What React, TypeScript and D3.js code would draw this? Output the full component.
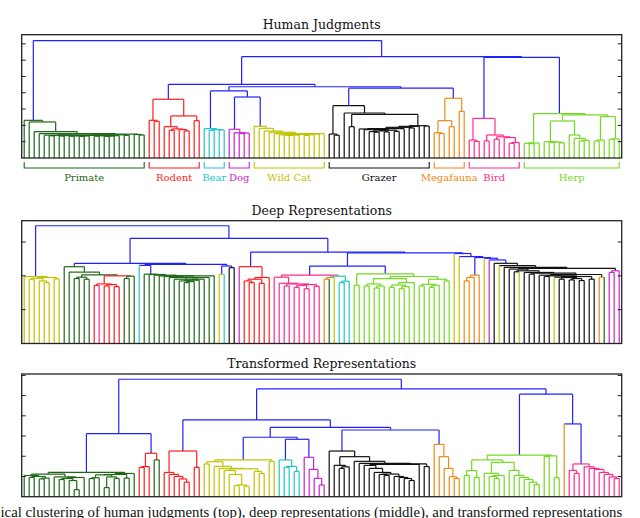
import * as d3 from "d3";

const WIDTH = 640;
const HEIGHT = 518;
const PLOT_LEFT = 21.7;
const PLOT_RIGHT = 621.7;
const N_LEAVES = 120;

const categoryCodes = ["P", "R", "C", "D", "W", "K", "O", "B", "H"];
const categoryNames = ["Primate", "Rodent", "Bear", "Dog", "Wild Cat", "Grazer", "Megafauna", "Bird", "Herp"];
const categoryColors = ["#1f661a", "#ff1c1c", "#1fc6cc", "#cc22cc", "#c2c200", "#111111", "#ee8a14", "#ff2a8a", "#74d820"];
const LINK_BLUE = "#2020ff";

// ---- Human judgments (top) ----
const humanLeafRuns: [string, number][] = [
  ["P", 25], ["R", 11], ["C", 5], ["D", 5], ["W", 15], ["K", 21], ["O", 7], ["B", 11], ["H", 20],
];
const humanGroups = [25, 11, 5, 5, 15, 21, 7, 11, 20];
const humanMerges = [
  2.31, 2.21, 1.62, 1.5, 1.4, 1.36, 1.38, 1.35, 1.37, 1.34, 1.36, 1.33, 1.35, 1.38, 1.34, 1.36, 1.33, 1.35, 1.37, 1.42,
  1.39, 1.47, 1.44, 1.41, 7.2, 2.31, 2.25, 3.6, 1.92, 1.7, 1.78, 1.74, 1.66, 2.58, 2.29, 4.52, 1.8, 1.7, 1.74, 1.72,
  4.11, 1.76, 1.55, 1.5, 1.53, 3.74, 1.94, 1.82, 1.65, 1.58, 1.5, 1.42, 1.4, 1.38, 1.41, 1.44, 1.39, 1.43, 1.47, 1.49,
  4.37, 1.47, 1.4, 3.21, 2.76, 1.92, 2.68, 1.78, 1.74, 1.62, 1.58, 1.66, 1.6, 1.7, 1.63, 1.8, 1.88, 1.84, 1.94, 1.98,
  1.96, 4.28, 1.55, 1.5, 2.29, 1.92, 3.66, 2.86, 6.21, 1.1, 1.02, 2.43, 1.05, 1.41, 1.15, 1.3, 1.25, 0.9, 0.95, 6.17,
  0.9, 0.88, 0.92, 2.72, 1.0, 0.95, 0.98, 0.93, 2.27, 1.41, 1.2, 1.05, 1.08, 2.64, 1.05, 1.1, 2.54, 1.15, 1.17,
];

// ---- Deep representations (middle) ----
const deepLeafRuns: [string, number][] = [
  ["W", 8], ["P", 6], ["R", 1], ["B", 1], ["R", 4], ["P", 3], ["C", 1], ["P", 15], ["W", 1], ["C", 1], ["K", 2],
  ["D", 1], ["R", 6], ["B", 10], ["O", 1], ["P", 1], ["W", 1], ["C", 3], ["H", 20], ["W", 2], ["O", 4], ["W", 1],
  ["D", 1], ["K", 1], ["W", 1], ["K", 3], ["W", 1], ["K", 6], ["W", 1], ["K", 8], ["O", 1], ["P", 1], ["D", 3],
];
const deepGroups = [8, 15, 1, 15, 2, 2, 7, 16, 20, 1, 1, 4, 1, 1, 26];
const deepMerges = [
  1.98, 1.9, 1.93, 1.85, 1.8, 1.95, 1.91, 3.48, 2.27, 2.11, 1.92, 1.96, 1.9, 2.03, 1.72, 1.76, 1.7, 1.74, 1.68, 2.0,
  1.92, 1.99, 2.37, 2.31, 2.05, 2.04, 2.02, 2.0, 1.98, 1.95, 1.9, 1.85, 1.8, 1.83, 1.87, 1.9, 1.95, 2.0, 2.34, 2.04,
  2.29, 2.24, 3.11, 2.27, 1.85, 1.8, 1.9, 1.78, 1.95, 2.7, 1.96, 1.78, 1.7, 1.76, 1.66, 1.72, 1.62, 1.74, 1.69, 2.02,
  1.9, 1.95, 1.99, 1.8, 1.84, 2.29, 1.72, 2.06, 1.7, 1.76, 1.64, 1.7, 1.92, 1.66, 1.73, 1.62, 1.68, 1.8, 1.98, 1.7,
  1.75, 1.66, 1.72, 1.9, 1.85, 2.68, 2.66, 2.57, 1.85, 1.95, 2.02, 2.54, 2.52, 2.47, 2.37, 2.3, 2.25, 2.2, 2.12, 2.15,
  2.1, 2.05, 2.08, 2.02, 1.98, 2.0, 1.96, 1.9, 1.95, 1.88, 1.92, 1.86, 1.98, 1.9, 2.04, 1.96, 2.22, 2.1, 2.15,
];

// ---- Transformed representations (bottom) ----
const transformedLeafRuns: [string, number][] = [
  ["P", 23], ["R", 3], ["P", 2], ["R", 8], ["W", 15], ["C", 5], ["D", 5], ["K", 21], ["O", 6], ["H", 20], ["O", 1], ["B", 11],
];
const transformedGroups = [23, 5, 8, 15, 5, 5, 21, 6, 20, 1, 11];
const transformedMerges = [
  1.05, 0.95, 1.0, 0.88, 0.92, 1.12, 0.98, 0.85, 0.9, 0.8, 0.35, 0.95, 1.2, 0.9, 0.94, 1.08, 0.45, 0.98, 0.9, 1.1,
  0.92, 1.15, 3.12, 1.45, 1.49, 2.15, 1.82, 5.81, 1.2, 1.1, 1.0, 0.88, 0.72, 2.26, 1.45, 3.8, 1.62, 1.73, 1.5, 1.4,
  1.3, 1.1, 0.55, 0.58, 0.52, 1.38, 1.25, 1.15, 1.82, 1.75, 2.94, 1.82, 1.45, 1.5, 1.25, 2.84, 1.95, 1.35, 0.91, 0.58,
  3.43, 2.26, 1.55, 1.4, 1.48, 1.98, 1.75, 1.65, 1.55, 1.4, 1.2, 1.1, 1.05, 1.12, 1.0, 0.95, 0.9, 0.8, 1.6, 1.62,
  1.49, 3.3, 2.59, 1.98, 1.4, 0.99, 0.9, 5.33, 1.05, 1.29, 0.95, 1.82, 1.16, 1.0, 0.9, 1.05, 1.7, 1.3, 1.05, 0.95,
  0.85, 0.72, 0.6, 2.06, 1.99, 2.02, 0.94, 5.07, 3.6, 1.3, 1.15, 1.62, 1.48, 1.4, 1.35, 1.2, 1.1, 0.98, 0.9,
];

const captionText =
  "ical clustering of human judgments (top), deep representations (middle), and transformed representations";

type TreeNode = { leaf?: number; k?: number; h: number; children?: TreeNode[] };

// rebuild the binary tree from the heights at which neighbouring leaves meet
function buildTree(merges: number[], lo: number, hi: number): TreeNode {
  if (lo === hi) return { leaf: lo, h: 0 };
  let k = lo;
  for (let i = lo; i < hi; i++) if (merges[i] > merges[k]) k = i;
  return { k, h: merges[k], children: [buildTree(merges, lo, k), buildTree(merges, k + 1, hi)] };
}

const expandRuns = (runs: [string, number][]) => runs.flatMap(([c, n]) => d3.range(n).map(() => c));

type DendroProps = {
  title: string;
  titleY: number;
  top: number;
  bottom: number;
  yMax: number;
  runs: [string, number][];
  groups: number[];
  merges: number[];
  brackets?: boolean;
};

const Dendrogram = ({ title, titleY, top, bottom, yMax, runs, groups, merges, brackets }: DendroProps) => {
  const cats = expandRuns(runs);
  const colorOf = (code: string) => categoryColors[categoryCodes.indexOf(code)];

  const xScale = d3.scaleLinear().domain([0, N_LEAVES]).range([PLOT_LEFT, PLOT_RIGHT]);
  const yScale = d3.scaleLinear().domain([0, yMax]).range([bottom, top]);

  // links joining whole colour groups are drawn in blue
  const blue = new Set(d3.cumsum(groups).slice(0, -1).map((c) => c - 1));

  const root = d3.hierarchy<TreeNode>(buildTree(merges, 0, N_LEAVES - 1), (d) => d.children);
  const xs = new Map<any, number>();
  root.eachAfter((node) => {
    if (!node.children) xs.set(node, xScale(node.data.leaf! + 0.5));
    else xs.set(node, d3.mean(node.children, (c) => xs.get(c)!)!);
  });

  const nodeColor = (node: d3.HierarchyNode<TreeNode>) => {
    if (blue.has(node.data.k!)) return LINK_BLUE;
    const counts = new Map<string, number>();
    let best = "";
    let bestN = 0;
    node.leaves().forEach((l) => {
      const c = cats[l.data.leaf!];
      const n = (counts.get(c) || 0) + 1;
      counts.set(c, n);
      if (n > bestN) {
        bestN = n;
        best = c;
      }
    });
    return colorOf(best);
  };

  const segments: { x1: number; y1: number; x2: number; y2: number; color: string }[] = [];
  root.descendants()
    .filter((n) => n.children)
    .forEach((node) => {
      const col = nodeColor(node);
      const y = yScale(node.data.h);
      const [a, b] = node.children!;
      segments.push({ x1: xs.get(a)!, y1: y, x2: xs.get(b)!, y2: y, color: col });
      [a, b].forEach((c) => {
        const legColor = c.children ? col : colorOf(cats[c.data.leaf!]);
        segments.push({ x1: xs.get(c)!, y1: y, x2: xs.get(c)!, y2: yScale(c.data.h), color: legColor });
      });
    });

  // label brackets under the human panel
  let start = 0;
  const bracketData = groups.map((n) => {
    const first = start;
    start += n;
    return { first, last: start - 1, code: cats[first] };
  });

  return (
    <g>
      <text x={(PLOT_LEFT + PLOT_RIGHT) / 2} y={titleY} textAnchor="middle" fontSize={12.5} fill="#111">
        {title}
      </text>
      {segments.map((s, i) => (
        <line key={i} x1={s.x1} y1={s.y1} x2={s.x2} y2={s.y2} stroke={s.color} strokeWidth={1.2} />
      ))}
      <rect x={PLOT_LEFT} y={top} width={PLOT_RIGHT - PLOT_LEFT} height={bottom - top} fill="none" stroke="#222" strokeWidth={1.3} />
      {d3.range(1, Math.floor(yMax) + 1).map((t) => (
        <g key={t}>
          <line x1={PLOT_LEFT} x2={PLOT_LEFT + 4} y1={yScale(t)} y2={yScale(t)} stroke="#222" />
          <line x1={PLOT_RIGHT - 4} x2={PLOT_RIGHT} y1={yScale(t)} y2={yScale(t)} stroke="#222" />
        </g>
      ))}
      {brackets &&
        bracketData.map((b) => {
          const x1 = xScale(b.first + 0.5);
          const x2 = xScale(b.last + 0.5);
          const col = colorOf(b.code);
          return (
            <g key={b.first}>
              <path d={`M${x1},${bottom + 4}V${bottom + 10}H${x2}V${bottom + 4}`} fill="none" stroke={col} strokeWidth={1.1} />
              <text x={(x1 + x2) / 2} y={bottom + 23} textAnchor="middle" fontSize={10} fill={col}>
                {categoryNames[categoryCodes.indexOf(b.code)]}
              </text>
            </g>
          );
        })}
    </g>
  );
};

export default function App() {
  return (
    <>
      <style>{`body{margin:0}`}</style>
      <svg width={WIDTH} height={HEIGHT} style={{ display: "block", fontFamily: "'DejaVu Serif', serif", background: "#fff" }}>
        <Dendrogram title="Human Judgments" titleY={29} top={34.7} bottom={158} yMax={7.56}
          runs={humanLeafRuns} groups={humanGroups} merges={humanMerges} brackets />
        <Dendrogram title="Deep Representations" titleY={215} top={220.7} bottom={343.5} yMax={3.63}
          runs={deepLeafRuns} groups={deepGroups} merges={deepMerges} />
        <Dendrogram title="Transformed Representations" titleY={368} top={374} bottom={496.7} yMax={6.07}
          runs={transformedLeafRuns} groups={transformedGroups} merges={transformedMerges} />
        <text x={0.5} y={516.5} fontSize={14.8} fontFamily="'Liberation Serif', serif" fill="#111">
          {captionText}
        </text>
      </svg>
    </>
  );
}
